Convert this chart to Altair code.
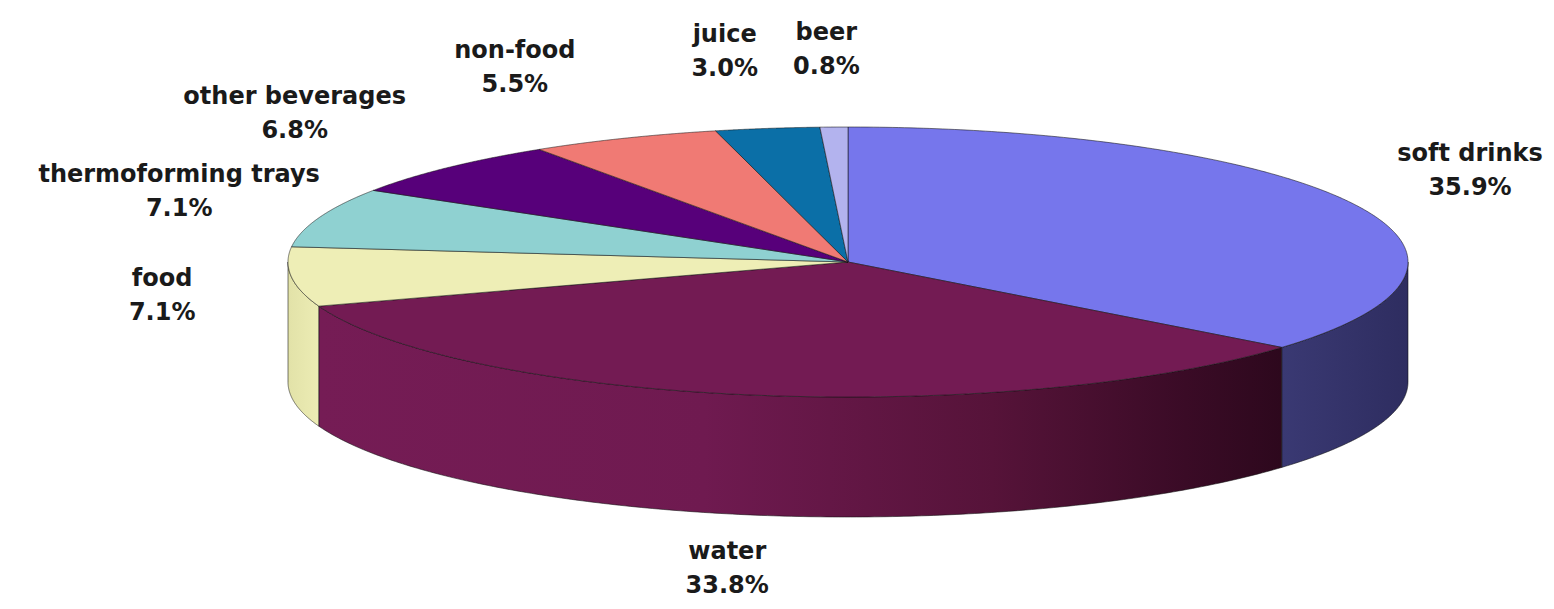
import altair as alt
import pandas as pd

# ---- data ----
categories = ["soft drinks", "water", "food", "thermoforming trays",
              "other beverages", "non-food", "juice", "beer"]
values = [35.9, 33.8, 7.1, 7.1, 6.8, 5.5, 3.0, 0.8]

# ---- styles ----
top_colors = ["#7676EC", "#731B53", "#EEEEB6", "#8FD1D1",
              "#57007A", "#F07A74", "#0B6FA7", "#B3B3EE"]
wall_stops = {
    "soft drinks": [(0, "#3A3973"), (1, "#2E2D60")],
    "water": [(0, "#751C55"), (0.4, "#6F1A50"), (0.7, "#561339"), (0.9, "#3A0B26"), (1, "#2D081D")],
    "food": [(0, "#E2E2A8"), (1, "#ECECB4")],
}

# ---- geometry of the projected pie (layout constants) ----
CX, CY, RX, RY, DEPTH = 848, 262, 560, 135, 120
LX, LXC, LY, LD = 690, 170, 212, 100   # label placement
LH = 34                                # label line height
XMAX = 1470
N = 200

slices = pd.DataFrame({"category": categories, "value": values})
slices["end"] = slices["value"].cumsum()
slices["start"] = slices["end"] - slices["value"]

xs = alt.Scale(domain=[8, 1546], nice=False, zero=False)
ys = alt.Scale(domain=[8, 600], nice=False, zero=False, reverse=True)

# side walls (front half only)
wall_df = slices.merge(pd.DataFrame({"k": list(range(N + 1))}), how="cross")
wall_base = (
    alt.Chart(wall_df)
    .transform_calculate(b0="max(datum.start/100*2*PI, PI/2)")
    .transform_calculate(b1="min(datum.end/100*2*PI, 3*PI/2)")
    .transform_filter("datum.b1 > datum.b0")
    .transform_calculate(ang=f"datum.b0 + datum.k/{N}*(datum.b1 - datum.b0)")
    .transform_calculate(px=f"{CX} + {RX}*sin(datum.ang)")
    .transform_calculate(py=f"{CY} - {RY}*cos(datum.ang)")
    .transform_calculate(py2=f"{CY} - {RY}*cos(datum.ang) + {DEPTH}")
)
walls = []
for cat, stops in wall_stops.items():
    grad = alt.Gradient(
        gradient="linear",
        stops=[alt.GradientStop(offset=o, color=c) for o, c in stops],
        x1=0, x2=1, y1=0, y2=0,
    )
    walls.append(
        wall_base.transform_filter(alt.datum.category == cat)
        .mark_area(color=grad, stroke="#111111", strokeWidth=0.7, strokeOpacity=0.8)
        .encode(
            x=alt.X("px:Q", scale=xs, axis=None),
            y=alt.Y("py:Q", scale=ys, axis=None),
            y2="py2:Q",
        )
    )

# top face wedges
top_df = slices.merge(pd.DataFrame({"k": list(range(N + 3))}), how="cross")
top = (
    alt.Chart(top_df)
    .transform_calculate(a0="datum.start/100*2*PI")
    .transform_calculate(a1="datum.end/100*2*PI")
    .transform_calculate(ang=f"datum.a0 + (datum.k - 1)/{N}*(datum.a1 - datum.a0)")
    .transform_calculate(ctr=f"datum.k == 0 || datum.k == {N + 2}")
    .transform_calculate(px=f"datum.ctr ? {CX} : {CX} + {RX}*sin(datum.ang)")
    .transform_calculate(py=f"datum.ctr ? {CY} : {CY} - {RY}*cos(datum.ang)")
    .mark_line(filled=True, stroke="#151515", strokeWidth=0.7, strokeOpacity=0.8,
               strokeJoin="round")
    .encode(
        x=alt.X("px:Q", scale=xs, axis=None),
        y=alt.Y("py:Q", scale=ys, axis=None),
        color=alt.Color("category:N", scale=alt.Scale(domain=categories, range=top_colors),
                        legend=None),
        detail="category:N",
        order="k:Q",
    )
)

# labels
labels = (
    alt.Chart(slices)
    .transform_calculate(mid="(datum.start + datum.value/2)/100*2*PI")
    .transform_calculate(c="cos(datum.mid)")
    .transform_calculate(
        lx=f"min({XMAX}, {CX} + ({LX} + {LXC}*pow(max(datum.c, 0), 2))*sin(datum.mid))"
    )
    .transform_calculate(
        ly=f"{CY} - {LY}*datum.c + (datum.c < 0 ? -datum.c*{LD} : 0) - {LH}/2"
    )
    .transform_calculate(label="datum.category + '\\n' + format(datum.value, '.1f') + '%'")
    .mark_text(lineBreak="\n", font="DejaVu Sans", fontWeight="bold", fontSize=24,
               lineHeight=LH, align="center", baseline="middle", color="#1A1A1A")
    .encode(
        x=alt.X("lx:Q", scale=xs, axis=None),
        y=alt.Y("ly:Q", scale=ys, axis=None),
        text="label:N",
    )
)

chart = (
    alt.layer(*walls, top, labels)
    .properties(width=1538, height=592, padding=0, autosize="none")
    .configure_view(stroke=None)
)

chart.save("out.html", embed_options={"renderer": "svg", "actions": False})
